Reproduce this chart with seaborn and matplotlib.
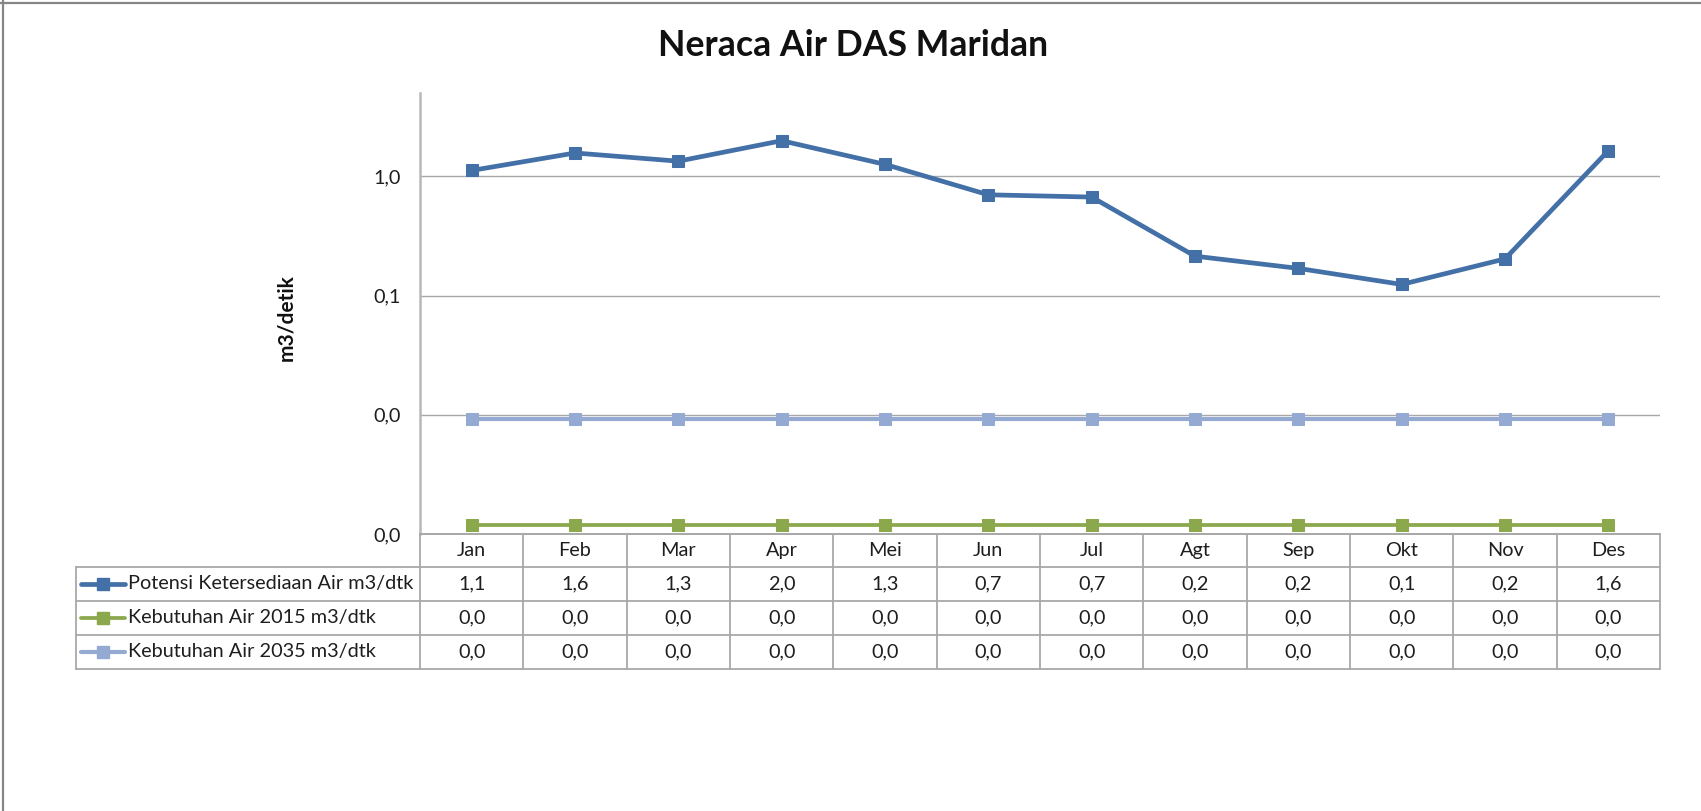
import matplotlib
matplotlib.use("Agg")
import matplotlib.pyplot as plt
from matplotlib.lines import Line2D
from matplotlib.transforms import blended_transform_factory
from matplotlib.ticker import FixedLocator, FuncFormatter, NullLocator
import numpy as np
import pandas as pd
import seaborn as sns

# ---- data -------------------------------------------------------------
months = ["Jan", "Feb", "Mar", "Apr", "Mei", "Jun", "Jul", "Agt", "Sep", "Okt", "Nov", "Des"]
potensi = [1.12, 1.57, 1.34, 1.99, 1.26, 0.70, 0.67, 0.214, 0.169, 0.124, 0.203, 1.64]
kebutuhan_2015 = [0.0012] * 12
kebutuhan_2035 = [0.0092] * 12

series_names = [
    "Potensi Ketersediaan Air m3/dtk",
    "Kebutuhan Air 2015 m3/dtk",
    "Kebutuhan Air 2035 m3/dtk",
]
series_values = [potensi, kebutuhan_2015, kebutuhan_2035]
series_colors = ["#4470A8", "#8BA84C", "#94AAD2"]
series_lw = [3.4, 2.7, 3.0]

y_ticks = [0.001, 0.01, 0.1, 1.0]

title = "Neraca Air DAS Maridan"
y_label = "m3/detik"

# ---- style ------------------------------------------------------------
sns.set_style("white")
plt.rcParams["font.family"] = ["Lato", "DejaVu Sans"]
FS = 14.3
TXT = "#1E1E1E"

W, H = 1701, 811
fig = plt.figure(figsize=(W / 100, H / 100), dpi=100)
fig.patch.set_facecolor("white")


def fx(px):
    return px / W


def fy(px):
    return 1 - px / H


left_px, right_px, top_px, bottom_px = 420, 1660, 93, 534
ax = fig.add_axes([fx(left_px), fy(bottom_px), fx(right_px) - fx(left_px), fy(top_px) - fy(bottom_px)])

x_pos = np.arange(len(months))
# draw the light-blue series first so the darker lines sit on top
draw_order = [2, 1, 0]
for i in draw_order:
    df = pd.DataFrame({"bulan": x_pos, "nilai": series_values[i]})
    sns.lineplot(
        data=df, x="bulan", y="nilai", ax=ax, color=series_colors[i],
        linewidth=series_lw[i], marker="s", markersize=8.5,
        markeredgecolor=series_colors[i], markerfacecolor=series_colors[i],
        legend=False, zorder=3 + (2 - i),
    )

ax.set_yscale("log")
ax.set_xlim(-0.5, len(months) - 0.5)
ax.set_ylim(0.001, 5.0)
ax.yaxis.set_major_locator(FixedLocator(y_ticks))
ax.yaxis.set_minor_locator(NullLocator())
ax.yaxis.set_major_formatter(FuncFormatter(lambda v, _: f"{v:.1f}".replace(".", ",")))
ax.set_xticks([])
ax.set_xlabel("")
ax.tick_params(axis="y", length=0, pad=14, labelsize=FS, labelcolor=TXT)
ax.grid(axis="y", color="#A8A8A8", linewidth=1.0)
ax.grid(axis="x", visible=False)
for s in ["top", "right"]:
    ax.spines[s].set_visible(False)
ax.spines["left"].set_color("#B8B8B8")
ax.spines["left"].set_linewidth(1.8)
ax.spines["bottom"].set_color("#A8A8A8")
ax.spines["bottom"].set_linewidth(1.2)

ax.set_ylabel(y_label, fontsize=15, fontweight="bold", color="#111111")
ax.yaxis.set_label_coords(-0.100, 0.49)

fig.text(fx(853), fy(46), title, ha="center", va="center",
         fontsize=25.7, fontweight="bold", color="#111111")

# ---- data table under the axis ---------------------------------------
grid_col = "#A8A8A8"
row_edges = [534, 567, 601, 635, 669]
table_left = 76
tr_col = blended_transform_factory(ax.transData, fig.transFigure)


def fmt(v):
    return f"{v:.1f}".replace(".", ",")


# horizontal lines
for k, yy in enumerate(row_edges):
    x0 = fx(left_px) if k == 0 else fx(table_left)
    fig.add_artist(Line2D([x0, fx(right_px)], [fy(yy), fy(yy)], color=grid_col, lw=1.3))
# vertical lines: column boundaries follow the category axis
for b in np.arange(-0.5, len(months), 1.0):
    fig.add_artist(Line2D([b, b], [fy(row_edges[0]), fy(row_edges[-1])],
                          transform=tr_col, color=grid_col, lw=1.3))
fig.add_artist(Line2D([fx(table_left)] * 2, [fy(row_edges[1]), fy(row_edges[-1])],
                      color=grid_col, lw=1.3))

# header: month names
for xi, m in zip(x_pos, months):
    fig.text(xi, fy((row_edges[0] + row_edges[1]) / 2), m, transform=tr_col,
             ha="center", va="center", fontsize=FS, color=TXT)

# rows: legend key, series name, values
for r, (name, vals, col, lw) in enumerate(zip(series_names, series_values, series_colors, series_lw)):
    yc = fy((row_edges[r + 1] + row_edges[r + 2]) / 2)
    fig.add_artist(Line2D([fx(81), fx(125)], [yc, yc], color=col, lw=lw))
    fig.add_artist(Line2D([fx(103)], [yc], color=col, marker="s", markersize=8.5, lw=0))
    fig.text(fx(128), yc, name, ha="left", va="center", fontsize=FS, color=TXT)
    for xi, v in zip(x_pos, vals):
        fig.text(xi, yc, fmt(v), transform=tr_col, ha="center", va="center",
                 fontsize=FS, color=TXT)

# chart frame (top and left edges)
fig.add_artist(Line2D([0, 1], [fy(2.5), fy(2.5)], color="#868686", lw=1.6))
fig.add_artist(Line2D([fx(2.5), fx(2.5)], [0, 1], color="#868686", lw=1.6))

fig.savefig("out.png", dpi=100, facecolor="white")
